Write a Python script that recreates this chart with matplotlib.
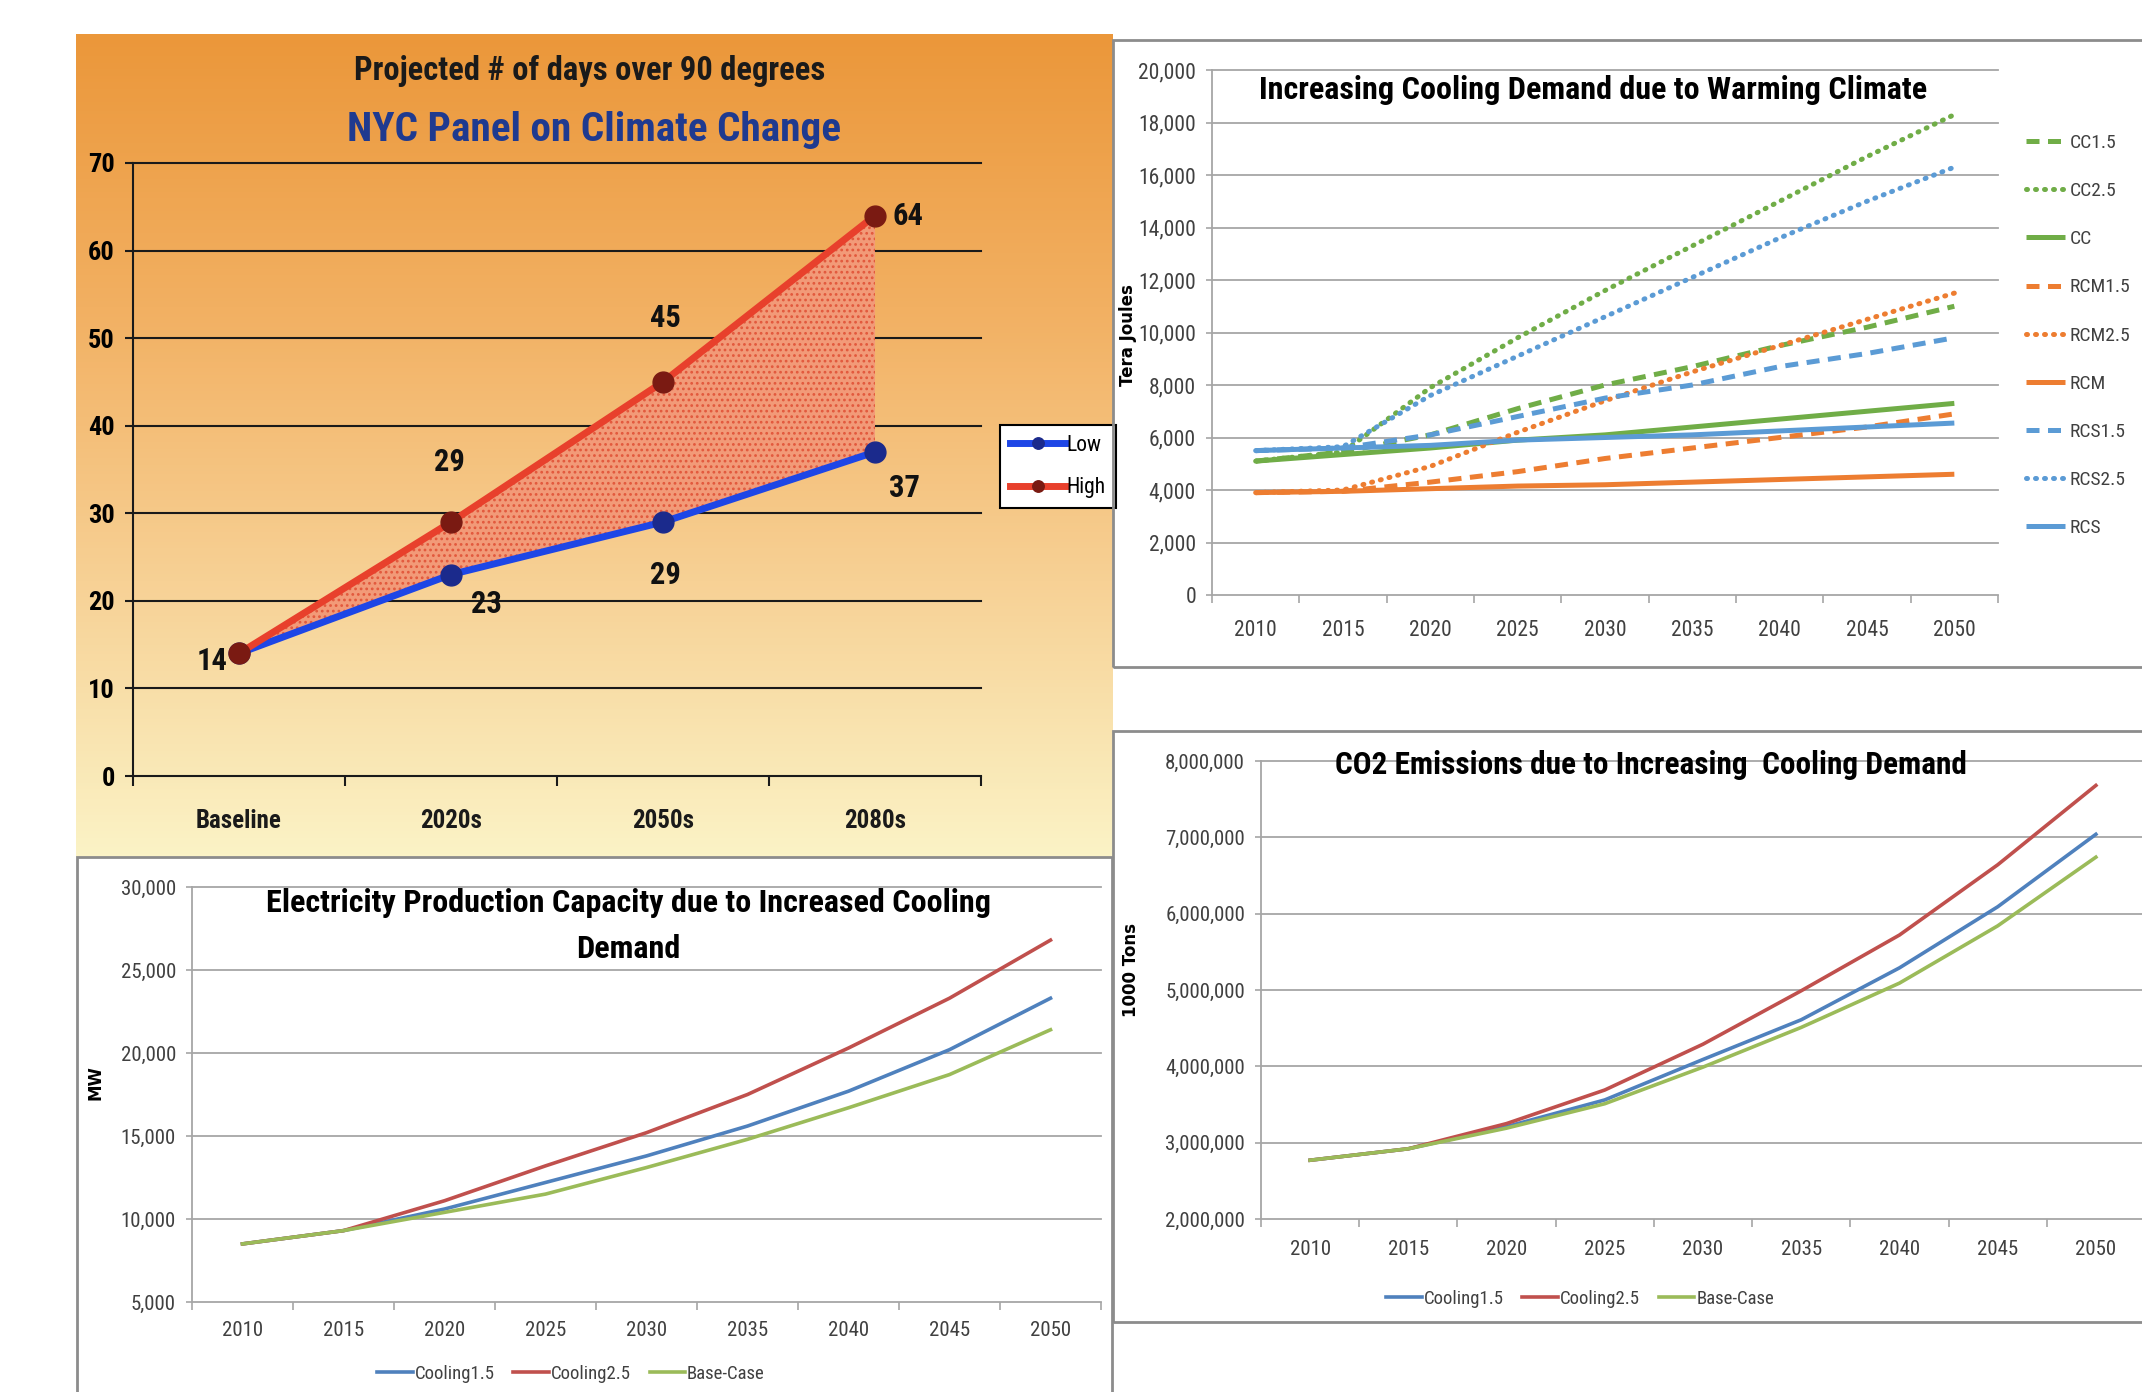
import numpy as np
import matplotlib
matplotlib.use("Agg")
import matplotlib.pyplot as plt
from matplotlib import font_manager
from matplotlib.colors import LinearSegmentedColormap
from matplotlib.patches import Rectangle

W, H, DPI = 2142, 1392, 100

# ---------------- data ----------------
periods = ["Baseline", "2020s", "2050s", "2080s"]
days_low = [14, 23, 29, 37]
days_high = [14, 29, 45, 64]

years = [2010, 2015, 2020, 2025, 2030, 2035, 2040, 2045, 2050]

# cooling demand, Tera Joules
cc15 = [5100, 5450, 6100, 7100, 8000, 8700, 9500, 10200, 11000]
cc25 = [5100, 5450, 7900, 9800, 11600, 13300, 15000, 16700, 18300]
cc = [5100, 5350, 5600, 5900, 6100, 6400, 6700, 7000, 7300]
rcm15 = [3900, 3950, 4300, 4700, 5200, 5600, 6000, 6400, 6900]
rcm25 = [3900, 4000, 4900, 6200, 7400, 8500, 9500, 10500, 11500]
rcm = [3900, 3950, 4050, 4150, 4200, 4300, 4400, 4500, 4600]
rcs15 = [5500, 5600, 6100, 6800, 7500, 8000, 8700, 9200, 9800]
rcs25 = [5500, 5650, 7600, 9100, 10600, 12100, 13600, 15000, 16300]
rcs = [5500, 5600, 5700, 5900, 6000, 6100, 6250, 6400, 6550]
demand_names = ["CC1.5", "CC2.5", "CC", "RCM1.5", "RCM2.5", "RCM", "RCS1.5", "RCS2.5", "RCS"]
demand_values = [cc15, cc25, cc, rcm15, rcm25, rcm, rcs15, rcs25, rcs]

# electricity production capacity, MW
elec_cool15 = [8500, 9300, 10600, 12200, 13800, 15600, 17700, 20200, 23300]
elec_cool25 = [8500, 9300, 11100, 13200, 15200, 17500, 20300, 23300, 26800]
elec_base = [8500, 9300, 10400, 11500, 13100, 14800, 16700, 18700, 21400]

# CO2 emissions, 1000 tons
co2_cool15 = [2770000, 2920000, 3210000, 3560000, 4090000, 4610000, 5290000, 6090000, 7040000]
co2_cool25 = [2770000, 2920000, 3250000, 3690000, 4290000, 4990000, 5720000, 6640000, 7680000]
co2_base = [2770000, 2920000, 3190000, 3510000, 3990000, 4510000, 5090000, 5840000, 6740000]
scenario_names = ["Cooling1.5", "Cooling2.5", "Base-Case"]

# ---------------- fonts ----------------
def pick_font(candidates):
    names = {f.name for f in font_manager.fontManager.ttflist}
    for c in candidates:
        if c in names:
            return c
    return "DejaVu Sans"

NARROW = pick_font(["Liberation Sans Narrow", "Roboto Condensed", "Arial Narrow", "Roboto", "Liberation Sans"])

fig = plt.figure(figsize=(W / DPI, H / DPI), dpi=DPI)
fig.patch.set_facecolor("white")


def box(x0, y0, x1, y1):
    return [x0 / W, 1 - y1 / H, (x1 - x0) / W, (y1 - y0) / H]


def fx(x):
    return x / W


def fy(y):
    return 1 - y / H


def fit_width(txt, target):
    r = fig.canvas.get_renderer()
    w = txt.get_window_extent(r).width
    txt.set_fontsize(txt.get_fontsize() * target / w)


GRAY = "#A6A6A6"
FRAME = "#8C8C8C"
TXT = "#404040"

# ---------------- panel 1: hot days ----------------
bg = fig.add_axes(box(76, 34, 1113, 857), zorder=0)
warm = LinearSegmentedColormap.from_list("warm", ["#EB973A", "#F2B062", "#F7D195", "#FBF3C6"])
bg.imshow(np.linspace(0, 1, 256)[:, None], aspect="auto", cmap=warm, extent=[0, 1, 0, 1])
bg.axis("off")

ax1 = fig.add_axes(box(133, 163, 981, 776), zorder=1)
ax1.set_facecolor("none")
xc = np.arange(len(periods))
ax1.set_xlim(-0.5, len(periods) - 0.5)
ax1.set_ylim(0, 70)
plt.rcParams["hatch.linewidth"] = 1.2
ax1.fill_between(xc, days_low, days_high, facecolor="#F29A78", edgecolor="#E2583C",
                 hatch="...", linewidth=0, zorder=2)
for v in range(10, 71, 10):
    ax1.axhline(v, color="#1A1A1A", lw=1.5, zorder=1, clip_on=False)
ax1.plot(xc, days_low, color="#1E46E6", lw=5, marker="o", ms=15, mfc="#1B2A8C",
         mec="#1B2A8C", label="Low", zorder=4, clip_on=False)
ax1.plot(xc, days_high, color="#E8402C", lw=5, marker="o", ms=15, mfc="#7A1A12",
         mec="#7A1A12", label="High", zorder=5, clip_on=False)

low_off = [(-27, -8), (35, -29), (2, -53), (29, -36)]
high_off = [None, (-2, 60), (2, 64), (33, 0)]
for i, v in enumerate(days_low):
    ax1.annotate(str(v), (i, v), xytext=low_off[i], textcoords="offset pixels",
                 ha="center", va="center", fontsize=22, fontweight="bold",
                 family=NARROW, color="#111111", zorder=6)
for i, v in enumerate(days_high):
    if high_off[i] is None:
        continue
    ax1.annotate(str(v), (i, v), xytext=high_off[i], textcoords="offset pixels",
                 ha="center", va="center", fontsize=22, fontweight="bold",
                 family=NARROW, color="#111111", zorder=6)

for s in ["top", "right"]:
    ax1.spines[s].set_visible(False)
for s in ["left", "bottom"]:
    ax1.spines[s].set_color("#1A1A1A")
    ax1.spines[s].set_linewidth(1.5)
ax1.set_yticks(range(0, 71, 10))
ax1.set_yticklabels([str(v) for v in range(0, 71, 10)], fontsize=19, fontweight="bold", family=NARROW)
ax1.tick_params(axis="y", length=6, width=1.5, color="#1A1A1A", pad=7)
ax1.set_xticks(xc)
ax1.set_xticklabels(periods, fontsize=18, fontweight="bold", family=NARROW, color="#1A1A1A")
ax1.set_xticks(np.arange(-0.5, len(periods)), minor=True)
ax1.tick_params(axis="x", which="major", length=0, pad=24)
ax1.tick_params(axis="x", which="minor", length=7, width=1.5, color="#1A1A1A")

leg1 = ax1.legend(loc="upper left", bbox_to_anchor=(fx(1000), fy(425)), bbox_transform=fig.transFigure,
                  frameon=True, fancybox=False, edgecolor="black", framealpha=1,
                  borderaxespad=0, borderpad=0.45, handlelength=2.6, handletextpad=0.05,
                  labelspacing=1.0, markerscale=0.55, prop={"family": NARROW, "size": 15.5})
leg1.get_frame().set_linewidth(1.5)

t1 = fig.text(fx(590), fy(71), "Projected # of days over 90 degrees", ha="center", va="center",
              fontsize=22, fontweight="bold", family=NARROW, color="#1A1A1A")
t1b = fig.text(fx(594), fy(130), "NYC Panel on Climate Change", ha="center", va="center",
               fontsize=26, fontweight="bold", family=NARROW, color="#1F3A8F")
fit_width(t1, 472)
fit_width(t1b, 494)


# ---------------- helpers for the Excel-style panels ----------------
def style_axes(ax, ylo, yhi, step, fsize, xpad):
    n = len(years)
    ax.set_facecolor("none")
    ax.set_xlim(-0.5, n - 0.5)
    ax.set_ylim(ylo, yhi)
    for s in ["top", "right"]:
        ax.spines[s].set_visible(False)
    for s in ["left", "bottom"]:
        ax.spines[s].set_color(GRAY)
        ax.spines[s].set_linewidth(1.3)
    ticks = np.arange(ylo, yhi + step / 2, step)
    for v in ticks[1:]:
        ax.axhline(v, color=GRAY, lw=1.3, zorder=0.5, clip_on=False)
    ax.set_yticks(ticks)
    ax.set_yticklabels([f"{int(v):,}" for v in ticks], fontsize=fsize, family=NARROW, color=TXT)
    ax.tick_params(axis="y", length=4.5, width=1.2, color=GRAY, pad=7)
    ax.set_xticks(range(n))
    ax.set_xticklabels([str(y) for y in years], fontsize=fsize, family=NARROW, color=TXT)
    ax.set_xticks(np.arange(-0.5, n), minor=True)
    ax.tick_params(axis="x", which="major", length=0, pad=xpad)
    ax.tick_params(axis="x", which="minor", length=6, width=1.2, color=GRAY)


def frame(x0, y0, x1, y1):
    fig.add_artist(Rectangle((fx(x0), fy(y1)), (x1 - x0) / W, (y1 - y0) / H,
                             transform=fig.transFigure, fill=False, ec=FRAME, lw=2, zorder=10))


# ---------------- panel 2: cooling demand ----------------
frame(1113, 40, 2170, 667)
ax2 = fig.add_axes(box(1212, 70, 1998, 595), zorder=2)
style_axes(ax2, 0, 20000, 2000, 15.5, 18)

GREEN, ORANGE, BLUE = "#70AD47", "#ED7D31", "#5B9BD5"
series_color = [GREEN, GREEN, GREEN, ORANGE, ORANGE, ORANGE, BLUE, BLUE, BLUE]
series_kind = ["dash", "dot", "solid"] * 3
xi = np.arange(len(years))
for name, vals, col, kind in zip(demand_names, demand_values, series_color, series_kind):
    if kind == "dash":
        ax2.plot(xi, vals, color=col, lw=3.6, ls=(0, (2.6, 1.7)), dash_capstyle="butt", label=name)
    elif kind == "dot":
        ax2.plot(xi, vals, color=col, lw=3.6, ls=(0, (0.2, 1.6)), dash_capstyle="round", label=name)
    else:
        ax2.plot(xi, vals, color=col, lw=3.6, solid_capstyle="butt", label=name)
ax2.legend(loc="upper left", bbox_to_anchor=(fx(2026), fy(134)), bbox_transform=fig.transFigure,
           frameon=False, borderpad=0, borderaxespad=0, handlelength=2.0, handletextpad=0.25,
           labelspacing=1.55, prop={"family": NARROW, "size": 14}, labelcolor=TXT)
t2 = fig.text(fx(1593), fy(90), "Increasing Cooling Demand due to Warming Climate", ha="center",
              va="center", fontsize=28, fontweight="bold", family=NARROW, color="black")
fit_width(t2, 669)
fig.text(fx(1128), fy(335), "Tera Joules", rotation=90, ha="center", va="center",
         fontsize=12, fontweight="bold", family="DejaVu Sans", color="black")

# ---------------- panel 3: electricity capacity ----------------
frame(77, 857, 1112, 1420)
ax3 = fig.add_axes(box(192, 887, 1101, 1302), zorder=2)
style_axes(ax3, 5000, 30000, 5000, 15, 14)
C15, C25, CB = "#4F81BD", "#C0504D", "#9BBB59"
for name, vals, col in zip(scenario_names, [elec_cool15, elec_cool25, elec_base], [C15, C25, CB]):
    ax3.plot(xi, vals, color=col, lw=2.6, label=name)
ax3.legend(loc="center", bbox_to_anchor=(fx(571), fy(1374)), bbox_transform=fig.transFigure,
           ncol=3, frameon=False, borderpad=0, handlelength=1.9, handletextpad=0.1,
           columnspacing=1.0, prop={"family": NARROW, "size": 13.5}, labelcolor=TXT)
t3a = fig.text(fx(628), fy(903), "Electricity Production Capacity due to Increased Cooling",
               ha="center", va="center", fontsize=26, fontweight="bold", family=NARROW, color="black")
fit_width(t3a, 725)
fig.text(fx(628), fy(949), "Demand", ha="center", va="center",
         fontsize=t3a.get_fontsize(), fontweight="bold", family=NARROW, color="black")
fig.text(fx(96), fy(1083), "MW", rotation=90, ha="center", va="center",
         fontsize=12, fontweight="bold", family="DejaVu Sans", color="black")

# ---------------- panel 4: CO2 emissions ----------------
frame(1113, 731, 2170, 1322)
ax4 = fig.add_axes(box(1261, 761, 2145, 1219), zorder=2)
style_axes(ax4, 2000000, 8000000, 1000000, 15, 15)
for name, vals, col in zip(scenario_names, [co2_cool15, co2_cool25, co2_base], [C15, C25, CB]):
    ax4.plot(xi, vals, color=col, lw=2.6, label=name)
ax4.legend(loc="center", bbox_to_anchor=(fx(1580), fy(1299)), bbox_transform=fig.transFigure,
           ncol=3, frameon=False, borderpad=0, handlelength=1.9, handletextpad=0.1,
           columnspacing=1.0, prop={"family": NARROW, "size": 13.5}, labelcolor=TXT)
t4 = fig.text(fx(1651), fy(765), "CO2 Emissions due to Increasing  Cooling Demand", ha="center",
              va="center", fontsize=28, fontweight="bold", family=NARROW, color="black")
fit_width(t4, 630)
fig.text(fx(1131), fy(970), "1000 Tons", rotation=90, ha="center", va="center",
         fontsize=12, fontweight="bold", family="DejaVu Sans", color="black")

fig.savefig("out.png", dpi=DPI, facecolor="white")
